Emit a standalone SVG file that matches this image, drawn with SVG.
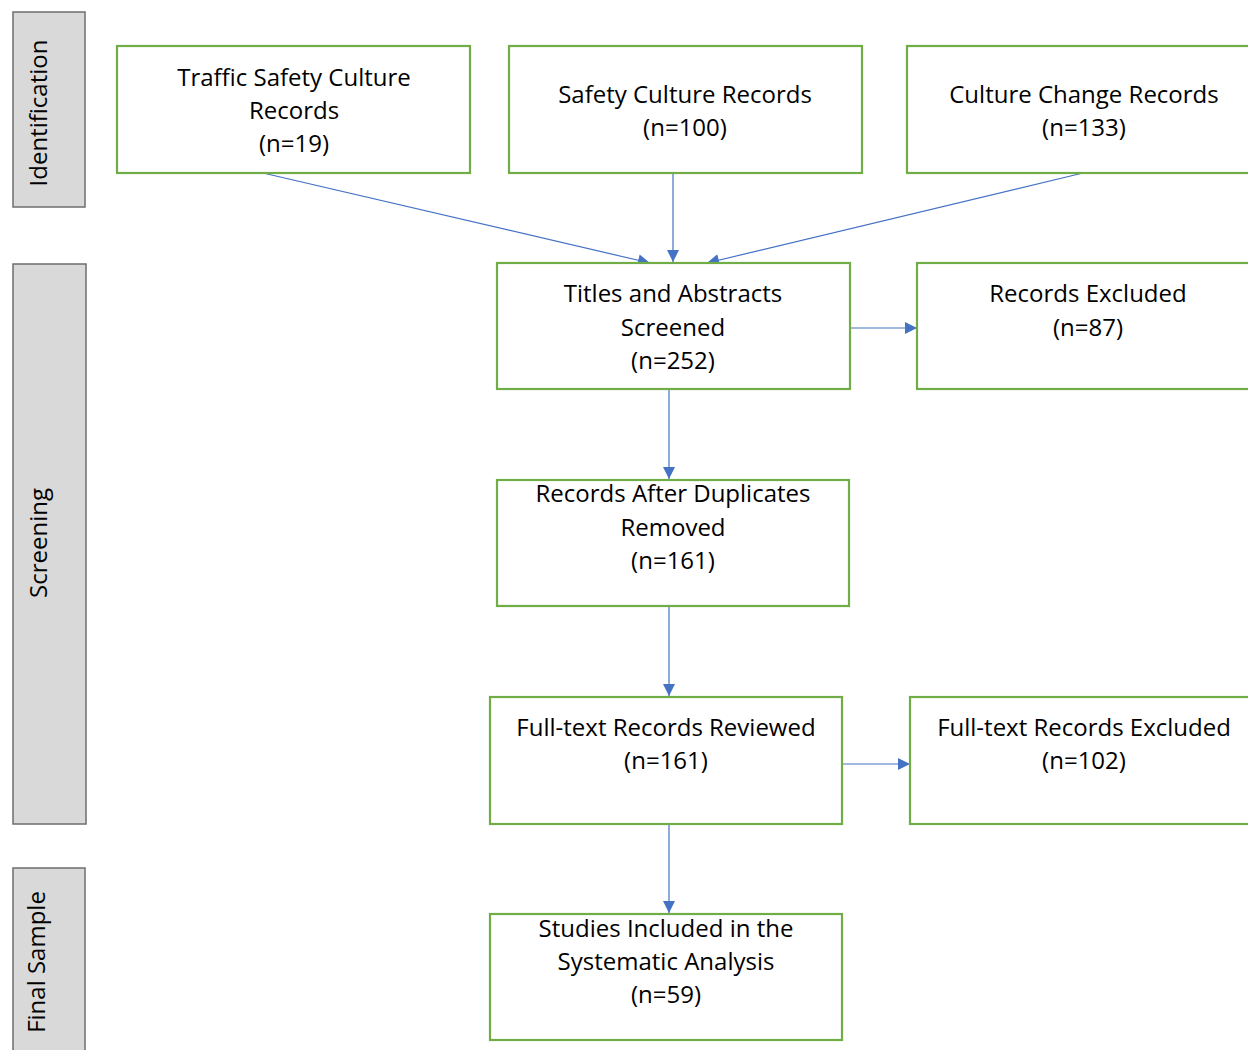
<svg xmlns="http://www.w3.org/2000/svg" width="1248" height="1050" viewBox="0 0 1248 1050">
<defs>
<style>
.stage{fill:#D9D9D9;stroke:#6E6E6E;stroke-width:1.5}
.box{fill:#FFFFFF;stroke:#70AD47;stroke-width:2.2}
.t{font-family:"Open Sans","Liberation Sans",sans-serif;font-size:24px;fill:#000;text-anchor:middle}
.c{stroke:#4472C4;stroke-width:1.2;fill:none;marker-end:url(#ah)}
</style>
<marker id="ah" viewBox="0 0 10 10" refX="10" refY="5" markerWidth="13" markerHeight="12" markerUnits="userSpaceOnUse" orient="auto">
<path d="M0,0 L10,5 L0,10 z" fill="#4472C4"/>
</marker>
</defs>
<rect width="1248" height="1050" fill="#FFFFFF"/>
<g id="stage-identification">
<rect class="stage" x="13" y="12" width="72" height="195"/>
<text class="t" transform="translate(47,113) rotate(-90)">Identification</text>
</g>
<g id="stage-screening">
<rect class="stage" x="13" y="264" width="73" height="560"/>
<text class="t" transform="translate(47,543) rotate(-90)">Screening</text>
</g>
<g id="stage-final">
<rect class="stage" x="13" y="868" width="72" height="200"/>
<text class="t" transform="translate(45,962) rotate(-90)">Final Sample</text>
</g>
<g id="connectors">
<line class="c" x1="263" y1="173" x2="650" y2="263"/>
<line class="c" x1="673" y1="173" x2="673" y2="262"/>
<line class="c" x1="1083" y1="173" x2="707" y2="263"/>
<line class="c" x1="850" y1="328" x2="917" y2="328"/>
<line class="c" x1="669" y1="389" x2="669" y2="479"/>
<line class="c" x1="669" y1="606" x2="669" y2="696"/>
<line class="c" x1="842" y1="764" x2="910" y2="764"/>
<line class="c" x1="669" y1="824" x2="669" y2="913"/>
</g>
<g id="n-traffic">
<rect class="box" x="117" y="46" width="353" height="127"/>
<text class="t" x="294" y="86">Traffic Safety Culture</text>
<text class="t" x="294" y="119">Records</text>
<text class="t" x="294" y="152">(n=19)</text>
</g>
<g id="n-safety">
<rect class="box" x="509" y="46" width="353" height="127"/>
<text class="t" x="685" y="103">Safety Culture Records</text>
<text class="t" x="685" y="136">(n=100)</text>
</g>
<g id="n-culture">
<rect class="box" x="907" y="46" width="353" height="127"/>
<text class="t" x="1084" y="103">Culture Change Records</text>
<text class="t" x="1084" y="136">(n=133)</text>
</g>
<g id="n-titles">
<rect class="box" x="497" y="263" width="353" height="126"/>
<text class="t" x="673" y="302">Titles and Abstracts</text>
<text class="t" x="673" y="336">Screened</text>
<text class="t" x="673" y="369">(n=252)</text>
</g>
<g id="n-excluded">
<rect class="box" x="917" y="263" width="343" height="126"/>
<text class="t" x="1088" y="302">Records Excluded</text>
<text class="t" x="1088" y="336">(n=87)</text>
</g>
<g id="n-duplicates">
<rect class="box" x="497" y="480" width="352" height="126"/>
<text class="t" x="673" y="502">Records After Duplicates</text>
<text class="t" x="673" y="536">Removed</text>
<text class="t" x="673" y="569">(n=161)</text>
</g>
<g id="n-fulltext">
<rect class="box" x="490" y="697" width="352" height="127"/>
<text class="t" x="666" y="736">Full-text Records Reviewed</text>
<text class="t" x="666" y="769">(n=161)</text>
</g>
<g id="n-ftexcluded">
<rect class="box" x="910" y="697" width="350" height="127"/>
<text class="t" x="1084" y="736">Full-text Records Excluded</text>
<text class="t" x="1084" y="769">(n=102)</text>
</g>
<g id="n-studies">
<rect class="box" x="490" y="914" width="352" height="126"/>
<text class="t" x="666" y="937">Studies Included in the</text>
<text class="t" x="666" y="970">Systematic Analysis</text>
<text class="t" x="666" y="1003">(n=59)</text>
</g>
</svg>
